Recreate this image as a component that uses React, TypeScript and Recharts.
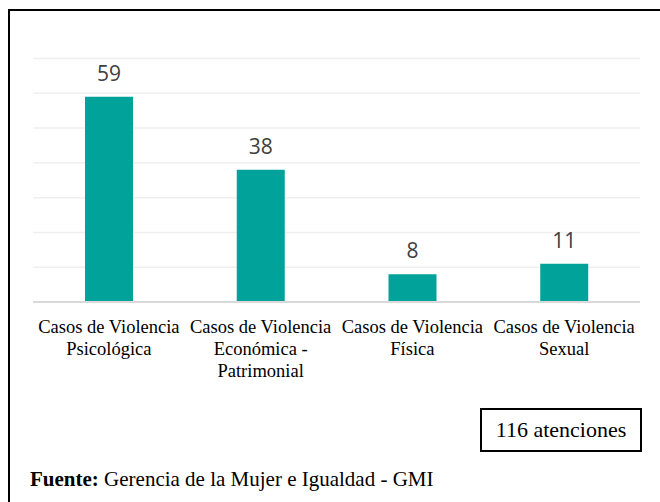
import React from "react";
import { BarChart, Bar, XAxis, YAxis, CartesianGrid, LabelList } from "recharts";

const categories = [
  "Casos de Violencia Psicológica",
  "Casos de Violencia Económica - Patrimonial",
  "Casos de Violencia Física",
  "Casos de Violencia Sexual",
];
const tickLines = [
  ["Casos de Violencia", "Psicológica"],
  ["Casos de Violencia", "Económica -", "Patrimonial"],
  ["Casos de Violencia", "Física"],
  ["Casos de Violencia", "Sexual"],
];
const values = [59, 38, 8, 11];
const yTicks = [0, 10, 20, 30, 40, 50, 60, 70];
const totalLabel = "116 atenciones";
const sourceBold = "Fuente:";
const sourceText = " Gerencia de la Mujer e Igualdad - GMI";

const data = categories.map((c, i) => ({ name: c, value: values[i], idx: i }));

const CatTick = (props: any) => {
  const { x, y, payload } = props;
  const lines = tickLines[payload.index] || [String(payload.value)];
  return (
    <g>
      {lines.map((l: string, i: number) => (
        <text
          key={i}
          x={x}
          y={y + 23 + i * 22}
          textAnchor="middle"
          fontFamily="'Liberation Serif', 'Times New Roman', serif"
          fontSize={18.5}
          fill="#000"
        >
          {l}
        </text>
      ))}
    </g>
  );
};

export default function App() {
  return (
    <div style={{ position: "absolute", left: 0, top: 0, width: 660, height: 502, background: "#fff", overflow: "hidden" }}>
      <div
        style={{
          position: "absolute",
          left: 8,
          top: 9,
          width: 660,
          height: 520,
          borderLeft: "2.5px solid #000",
          borderTop: "2.5px solid #000",
          boxSizing: "border-box",
        }}
      />
      <div style={{ position: "absolute", left: 0, top: 0 }}>
        <BarChart
          width={660}
          height={502}
          data={data}
          margin={{ top: 58.5, right: 20, left: 33, bottom: 140 }}
          barCategoryGap="0%"
        >
          <CartesianGrid vertical={false} stroke="#efefef" strokeWidth={1.5} />
          <YAxis hide domain={[0, 70]} ticks={yTicks} />
          <XAxis
            dataKey="name"
            height={60}
            axisLine={{ stroke: "#d9d9d9", strokeWidth: 2 }}
            tickLine={false}
            interval={0}
            tick={<CatTick />}
          />
          <Bar dataKey="value" fill="#00A29A" barSize={48} isAnimationActive={false}>
            <LabelList
              dataKey="value"
              position="top"
              offset={16}
              fill="#404040"
              fontSize={21}
              fontFamily="'Open Sans', Lato, sans-serif"
            />
          </Bar>
        </BarChart>
      </div>
      <div
        style={{
          position: "absolute",
          left: 480,
          top: 408,
          width: 162,
          height: 44,
          border: "2px solid #000",
          boxSizing: "border-box",
          display: "flex",
          alignItems: "center",
          justifyContent: "center",
          fontFamily: "'Liberation Serif', 'Times New Roman', serif",
          fontSize: 22,
          color: "#000",
          whiteSpace: "nowrap",
        }}
      >
        {totalLabel}
      </div>
      <div
        style={{
          position: "absolute",
          left: 30,
          top: 467,
          fontFamily: "'Liberation Serif', 'Times New Roman', serif",
          fontSize: 21,
          color: "#000",
          whiteSpace: "nowrap",
        }}
      >
        <b>{sourceBold}</b>
        {sourceText}
      </div>
    </div>
  );
}
